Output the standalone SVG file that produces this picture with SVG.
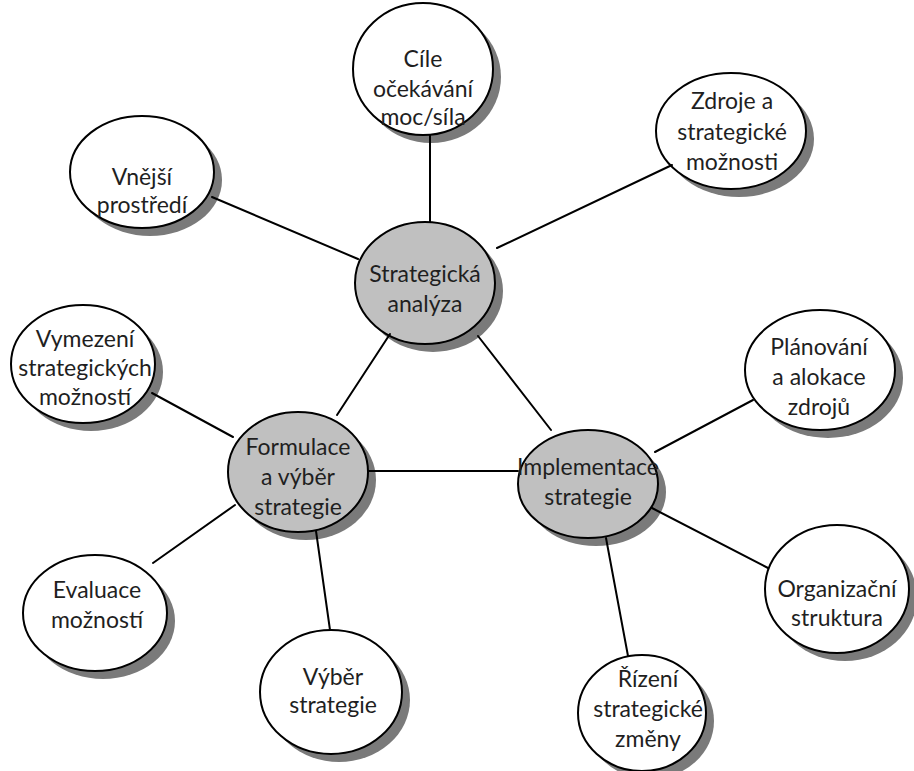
<svg xmlns="http://www.w3.org/2000/svg" width="914" height="771" viewBox="0 0 914 771">
  <style>
    text { font-family: Lato, "Open Sans", sans-serif; font-size: 23px; fill: #1f1f1f; text-anchor: middle; }
    #connectors line { stroke: #000000; stroke-width: 2; stroke-linecap: round; }
  </style>
  <rect width="914" height="771" fill="#ffffff"/>

  <!-- outer nodes: gray offset shadow, then the outlined ellipse, then the label -->
  <g id="cile" class="node">
    <ellipse cx="431" cy="77" rx="70" ry="66" fill="#7a7a7a"/>
    <ellipse cx="423" cy="69" rx="70" ry="66" fill="#ffffff" stroke="#000000" stroke-width="2"/>
    <text x="423" y="67">Cíle</text>
    <text x="423" y="97">očekávání</text>
    <text x="423" y="125">moc/síla</text>
  </g>
  <g id="zdroje" class="node">
    <ellipse cx="739" cy="139" rx="75" ry="58" fill="#7a7a7a"/>
    <ellipse cx="731" cy="131" rx="75" ry="58" fill="#ffffff" stroke="#000000" stroke-width="2"/>
    <text x="732" y="109">Zdroje a</text>
    <text x="732" y="140">strategické</text>
    <text x="732" y="170">možnosti</text>
  </g>
  <g id="vnejsi" class="node">
    <ellipse cx="150" cy="180" rx="72" ry="56" fill="#7a7a7a"/>
    <ellipse cx="142" cy="172" rx="72" ry="56" fill="#ffffff" stroke="#000000" stroke-width="2"/>
    <text x="142" y="185">Vnější</text>
    <text x="142" y="213">prostředí</text>
  </g>
  <g id="vymezeni" class="node">
    <ellipse cx="91" cy="372" rx="72" ry="59" fill="#7a7a7a"/>
    <ellipse cx="83" cy="364" rx="72" ry="59" fill="#ffffff" stroke="#000000" stroke-width="2"/>
    <text x="85" y="347">Vymezení</text>
    <text x="85" y="376">strategických</text>
    <text x="85" y="405">možností</text>
  </g>
  <g id="planovani" class="node">
    <ellipse cx="828" cy="378" rx="75" ry="60" fill="#7a7a7a"/>
    <ellipse cx="820" cy="370" rx="75" ry="60" fill="#ffffff" stroke="#000000" stroke-width="2"/>
    <text x="819" y="355">Plánování</text>
    <text x="819" y="385">a alokace</text>
    <text x="819" y="415">zdrojů</text>
  </g>
  <g id="organizacni" class="node">
    <ellipse cx="845" cy="597" rx="72" ry="64" fill="#7a7a7a"/>
    <ellipse cx="837" cy="589" rx="72" ry="64" fill="#ffffff" stroke="#000000" stroke-width="2"/>
    <text x="837" y="597">Organizační</text>
    <text x="837" y="626">struktura</text>
  </g>
  <g id="evaluace" class="node">
    <ellipse cx="103" cy="621" rx="72" ry="58" fill="#7a7a7a"/>
    <ellipse cx="95" cy="613" rx="72" ry="58" fill="#ffffff" stroke="#000000" stroke-width="2"/>
    <text x="97" y="598">Evaluace</text>
    <text x="97" y="628">možností</text>
  </g>
  <g id="vyber" class="node">
    <ellipse cx="339" cy="700" rx="71" ry="62" fill="#7a7a7a"/>
    <ellipse cx="331" cy="692" rx="71" ry="62" fill="#ffffff" stroke="#000000" stroke-width="2"/>
    <text x="333" y="685">Výběr</text>
    <text x="333" y="713">strategie</text>
  </g>
  <g id="rizeni" class="node">
    <ellipse cx="650" cy="721" rx="64" ry="58" fill="#7a7a7a"/>
    <ellipse cx="642" cy="713" rx="64" ry="58" fill="#ffffff" stroke="#000000" stroke-width="2"/>
    <text x="648" y="687">Řízení</text>
    <text x="648" y="717">strategické</text>
    <text x="648" y="747">změny</text>
  </g>

  <!-- core nodes -->
  <g id="strategicka-analyza" class="node">
    <ellipse cx="433" cy="291" rx="70" ry="61" fill="#7a7a7a"/>
    <ellipse cx="425" cy="283" rx="70" ry="61" fill="#c0c0c0" stroke="#000000" stroke-width="2"/>
    <text x="425" y="282">Strategická</text>
    <text x="425" y="312">analýza</text>
  </g>
  <g id="formulace" class="node">
    <ellipse cx="306" cy="480" rx="70" ry="60" fill="#7a7a7a"/>
    <ellipse cx="298" cy="472" rx="70" ry="60" fill="#c0c0c0" stroke="#000000" stroke-width="2"/>
    <text x="298" y="455">Formulace</text>
    <text x="298" y="485">a výběr</text>
    <text x="298" y="515">strategie</text>
  </g>
  <g id="implementace" class="node">
    <ellipse cx="596" cy="492" rx="70" ry="54" fill="#7a7a7a"/>
    <ellipse cx="588" cy="484" rx="70" ry="54" fill="#c0c0c0" stroke="#000000" stroke-width="2"/>
    <text x="588" y="475">Implementace</text>
    <text x="588" y="505">strategie</text>
  </g>

  <!-- connectors -->
  <g id="connectors">
    <line x1="212" y1="197" x2="358" y2="259"/>
    <line x1="430" y1="135" x2="430" y2="222"/>
    <line x1="672" y1="165" x2="497" y2="248"/>
    <line x1="390" y1="334" x2="337" y2="415"/>
    <line x1="478" y1="336" x2="551" y2="430"/>
    <line x1="368" y1="471" x2="518" y2="471"/>
    <line x1="152" y1="393" x2="233" y2="437"/>
    <line x1="235" y1="505" x2="153" y2="563"/>
    <line x1="316" y1="531" x2="330" y2="630"/>
    <line x1="655" y1="452" x2="753" y2="400"/>
    <line x1="652" y1="508" x2="768" y2="568"/>
    <line x1="606" y1="538" x2="628" y2="656"/>
  </g>
</svg>
